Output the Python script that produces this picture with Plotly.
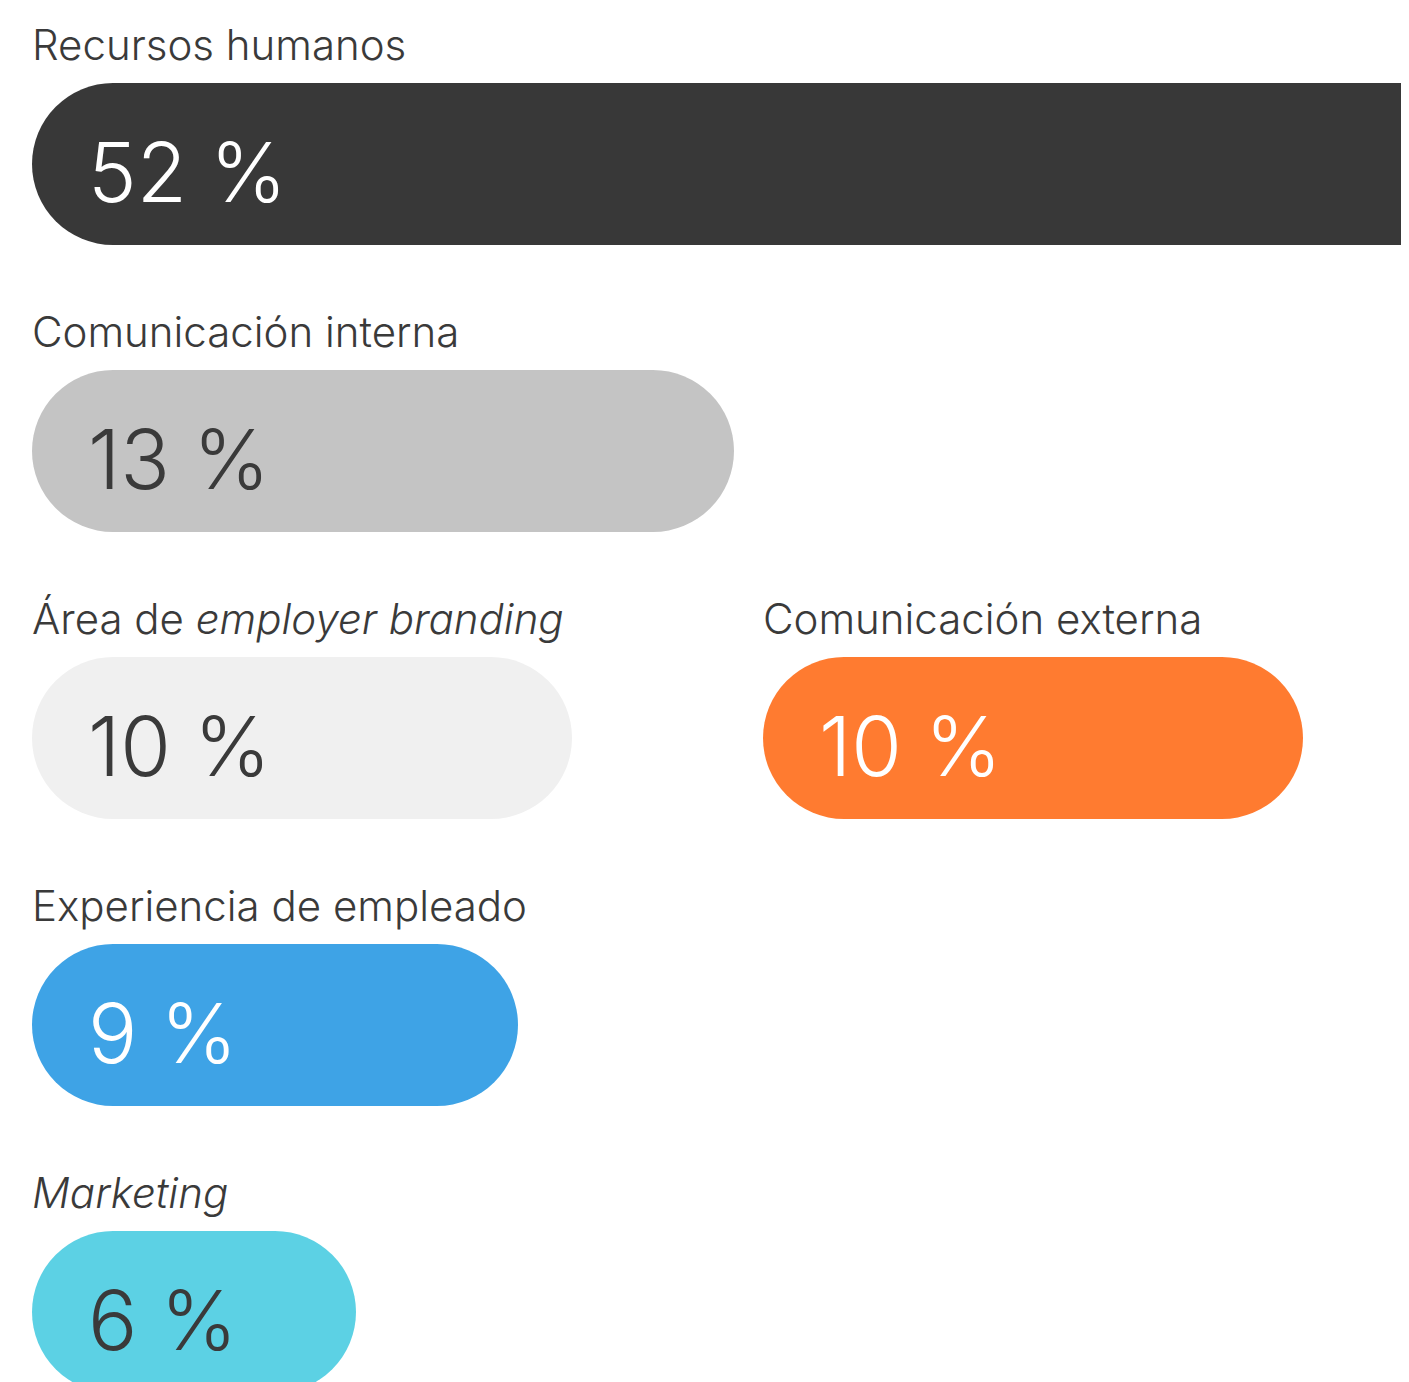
"""Pill-shaped horizontal bars: area responsible for employer branding."""

import plotly.graph_objects as go

# Data
categories = [
    "Recursos humanos",
    "Comunicación interna",
    "Área de <i>employer branding</i>",
    "Comunicación externa",
    "Experiencia de empleado",
    "<i>Marketing</i>",
]
values = [52, 13, 10, 10, 9, 6]
bar_colors = ["#383838", "#c4c4c4", "#f0f0f0", "#ff7b30", "#3ea3e6", "#5cd1e4"]
value_colors = ["#ffffff", "#3a3a3a", "#3a3a3a", "#ffffff", "#ffffff", "#3a3a3a"]

# Grid placement (row, column) for each category
rows = [0, 1, 2, 2, 3, 4]
cols = [0, 0, 0, 1, 0, 0]

# page body adds an 8px margin, so the figure is a bit smaller than the window
W, H = 1401, 1374
PX_PER_UNIT = 54  # pixels per percentage point
ROW_PX = 287
FIRST_ROW_PX = 156
BAR_PX = 162
COL_LEFT = [24, 755]
LABEL_COLOR = "#3a3a3a"
FONT = "Inter"

fig = go.Figure()

for c in (0, 1):
    idx = [i for i in range(len(values)) if cols[i] == c]
    vs = [values[i] for i in idx]
    fig.add_trace(
        go.Bar(
            y=[rows[i] for i in idx],
            x=vs,
            base=[0] * len(vs),
            orientation="h",
            width=BAR_PX / ROW_PX,
            marker={
                "color": [bar_colors[i] for i in idx],
                "line": {"width": 0},
                "cornerradius": BAR_PX / 2,
            },
            xaxis="x" if c == 0 else "x2",
            yaxis="y",
            hovertemplate="%{x} %<extra></extra>",
            showlegend=False,
        )
    )

annotations = []
for i, name in enumerate(categories):
    xref = "x" if cols[i] == 0 else "x2"
    annotations.append(
        {
            "text": name,
            "x": 0,
            "y": rows[i],
            "xref": xref,
            "yref": "y",
            "xshift": -2,
            "yshift": 120,
            "xanchor": "left",
            "yanchor": "middle",
            "showarrow": False,
            "font": {"family": FONT, "size": 42, "color": LABEL_COLOR, "weight": 300},
        }
    )
    annotations.append(
        {
            "text": f"{values[i]} %",
            "x": 0,
            "y": rows[i],
            "xref": xref,
            "yref": "y",
            "xshift": 54,
            "yshift": -8,
            "xanchor": "left",
            "yanchor": "middle",
            "showarrow": False,
            "font": {"family": FONT, "size": 82, "color": value_colors[i], "weight": 300},
        }
    )

hidden = {
    "showgrid": False,
    "zeroline": False,
    "showticklabels": False,
    "showline": False,
    "fixedrange": True,
}

fig.update_layout(
    width=W,
    height=H,
    margin={"l": 0, "r": 0, "t": 0, "b": 0},
    barmode="overlay",
    paper_bgcolor="white",
    plot_bgcolor="white",
    annotations=annotations,
    xaxis={
        **hidden,
        "domain": [0, 1],
        "range": [-COL_LEFT[0] / PX_PER_UNIT, (W - COL_LEFT[0]) / PX_PER_UNIT],
    },
    xaxis2={
        **hidden,
        "domain": [0, 1],
        "anchor": "y",
        "overlaying": "x",
        "range": [-COL_LEFT[1] / PX_PER_UNIT, (W - COL_LEFT[1]) / PX_PER_UNIT],
    },
    yaxis={
        **hidden,
        "domain": [0, 1],
        "range": [(H - FIRST_ROW_PX) / ROW_PX, -FIRST_ROW_PX / ROW_PX],
    },
)

fig.write_html("out.html")
